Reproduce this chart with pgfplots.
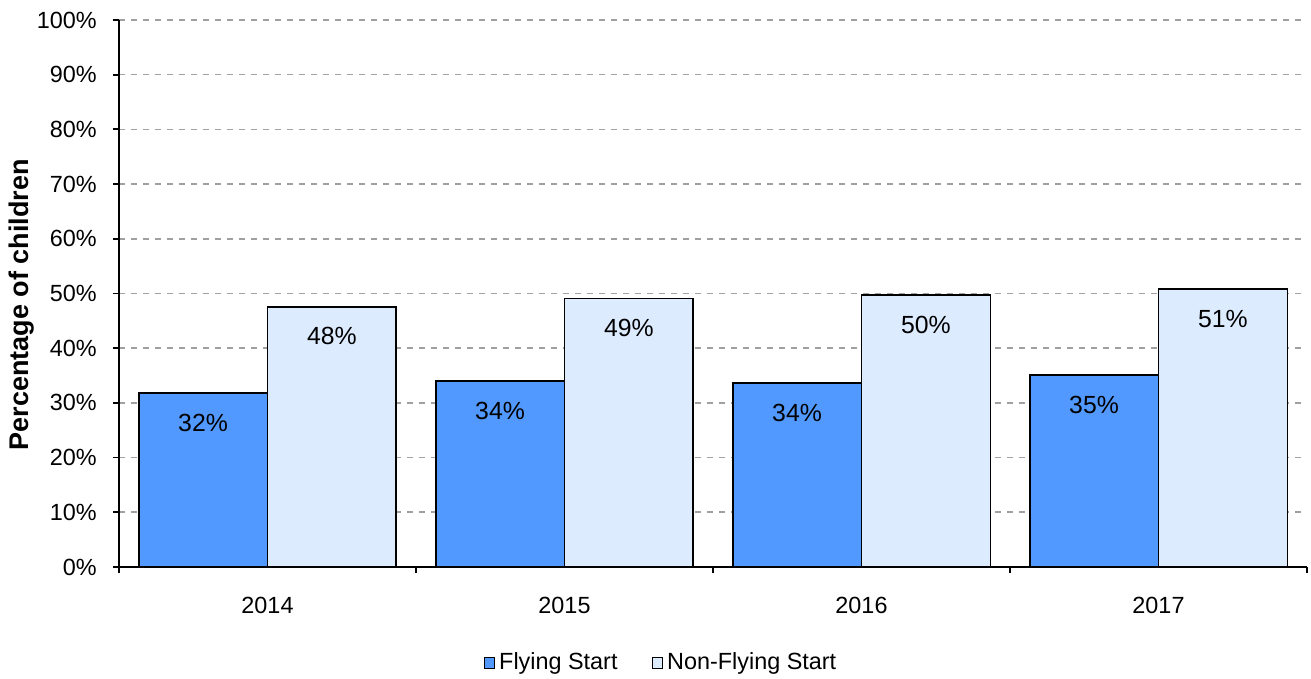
\documentclass[border=0pt]{standalone}
\usepackage{fontspec}
\setmainfont{Liberation Sans}
\usepackage{pgfplots}
\pgfplotsset{compat=1.18}

\definecolor{fsblue}{RGB}{81,153,255}
\definecolor{nfsblue}{RGB}{221,235,255}
\definecolor{gridgray}{RGB}{160,160,160}

\begin{document}
\fontsize{11.7}{14}\selectfont
\begin{tikzpicture}
\begin{axis}[
  width=594pt, height=273.5pt, scale only axis,
  ybar=0pt,
  xmin=-0.5, xmax=3.5, ymin=0, ymax=100,
  axis x line*=bottom, axis y line*=left,
  axis line style={-, line width=0.9pt},
  xtick={0,1,2,3}, xticklabels={2014,2015,2016,2017},
  major x tick style={draw=none},
  minor xtick={-0.5,0.5,1.5,2.5,3.5},
  minor tick length=3pt,
  minor x tick style={line width=0.9pt, black},
  ytick={0,10,...,100},
  yticklabel={\pgfmathprintnumber{\tick}\%},
  tick align=outside, major tick length=3pt,
  major y tick style={line width=0.9pt, black},
  ymajorgrids, grid style={dashed, gridgray, line width=0.8pt},
  yticklabel style={xshift=-4pt},
  xticklabel style={yshift=-8pt},
  /pgf/number format/assume math mode=true,
  ylabel={\fontsize{13.5}{16}\selectfont\bfseries Percentage of children},
  every axis y label/.style={at={(axis description cs:-0.0817,0.479)}, anchor=center, rotate=90},
  bar width=0.434,
  nodes near coords={\pgfmathprintnumber[fixed,precision=0]{\pgfplotspointmeta}\%},
  every node near coord/.append style={anchor=north, yshift=-6pt, black, font=\fontsize{12.4}{14}\selectfont},
  legend style={at={(axis description cs:0.457,-0.1755)}, anchor=center, draw=none,
    legend columns=2, /tikz/every even column/.append style={column sep=15pt}},
  legend image code/.code={\draw[#1,draw=black,line width=0.6pt] (0pt,-2.6pt) rectangle (5.2pt,2.6pt);},
  legend cell align=left,
]
\addplot[bar shift=-0.217, fill=fsblue, draw=black, line width=0.9pt]
  coordinates {(0,31.8) (1,34.0) (2,33.6) (3,35.1)};
\addplot[bar shift=0.217, fill=nfsblue, draw=black, line width=0.9pt]
  coordinates {(0,47.6) (1,49.1) (2,49.7) (3,50.8)};
\legend{Flying Start, Non-Flying Start}
\coordinate (ll) at (rel axis cs:0,0);
\coordinate (ur) at (rel axis cs:1,1);
\end{axis}
\pgfresetboundingbox
\useasboundingbox ([shift={(-59.5pt,-56pt)}]ll) rectangle ([shift={(2pt,10pt)}]ur);
\end{tikzpicture}
\end{document}
